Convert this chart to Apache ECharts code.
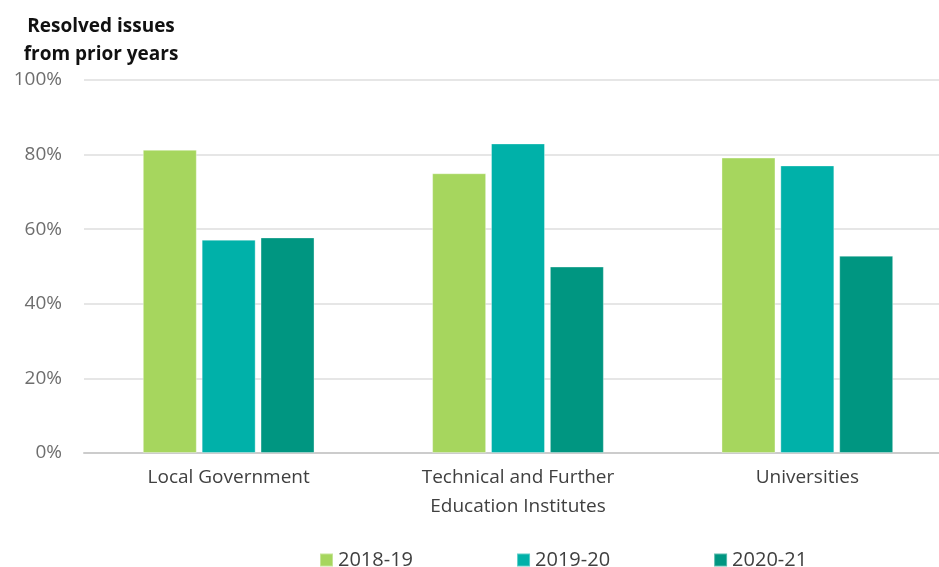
<!DOCTYPE html>
<html>
<head>
<meta charset="utf-8">
<script src="https://cdn.jsdelivr.net/npm/echarts@6/dist/echarts.min.js"></script>
<style>
  html, body { margin: 0; padding: 0; background: #fff; overflow: hidden; }
  /* the plot runs a little past the right edge of the window, so the canvas is wider than the page */
  #chart { width: 952px; height: 567px; }
</style>
</head>
<body>
<div id="chart"></div>
<script>
// Sectors and the share of prior-year issues resolved in each year
const categories = ['Local Government', 'Technical and Further\nEducation Institutes', 'Universities'];
const seriesNames = ['2018-19', '2019-20', '2020-21'];
const values2018 = [81.3, 75.0, 79.2];
const values2019 = [57.2, 83.0, 77.1];
const values2020 = [57.8, 50.0, 52.9];
const yTicks = [0, 20, 40, 60, 80, 100];

const colors = ['#A6D65E', '#00B1A9', '#009681'];
const fontFamily = '"Open Sans", "Noto Sans", sans-serif';

const chart = echarts.init(document.getElementById('chart'), null, { renderer: 'canvas' });

const seriesData = [values2018, values2019, values2020];

chart.setOption({
  animation: false,
  color: colors,
  textStyle: { fontFamily: fontFamily },
  graphic: [{
    type: 'text',
    x: 101,
    y: 13,
    style: {
      text: 'Resolved issues\nfrom prior years',
      font: 'bold 19px ' + fontFamily,
      fill: '#111',
      align: 'center',
      lineHeight: 28
    }
  }],
  grid: { left: 84, top: 80, right: 0, height: 373, containLabel: false },
  legend: {
    top: 545,
    left: 314,
    data: seriesNames,
    icon: 'rect',
    itemWidth: 13,
    itemHeight: 13,
    itemGap: 103,
    itemTextGap: 6,
    textStyle: { fontSize: 20, color: '#404040', fontFamily: fontFamily }
  },
  xAxis: {
    type: 'category',
    data: categories,
    axisTick: { show: false },
    axisLine: { lineStyle: { color: '#cccccc', width: 2 } },
    axisLabel: { fontSize: 19, color: '#404040', margin: 10, lineHeight: 29, fontFamily: fontFamily }
  },
  yAxis: {
    type: 'value',
    min: yTicks[0],
    max: yTicks[yTicks.length - 1],
    interval: yTicks[1] - yTicks[0],
    axisLine: { show: false },
    axisTick: { show: false },
    splitLine: { lineStyle: { color: '#dedede', width: 1.5 } },
    axisLabel: { formatter: '{value}%', fontSize: 19, color: '#6e6e6e', margin: 22, fontFamily: fontFamily }
  },
  series: seriesNames.map((name, i) => ({
    name: name,
    type: 'bar',
    data: seriesData[i],
    barWidth: 54,
    barGap: '9%',
    itemStyle: { color: colors[i], borderColor: 'rgba(255,255,255,0.35)', borderWidth: 1 }
  }))
});
</script>
</body>
</html>
